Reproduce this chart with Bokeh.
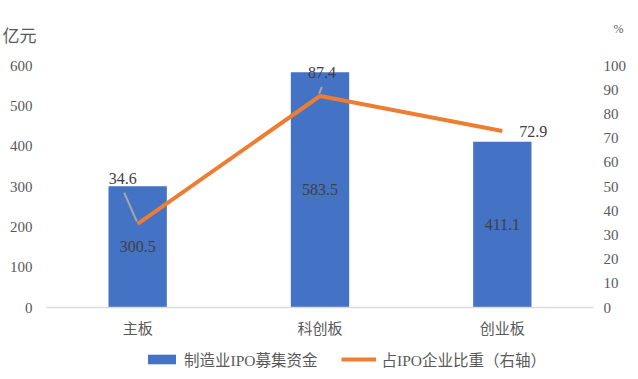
from bokeh.plotting import figure
from bokeh.layouts import column
from bokeh.models import (Range1d, LinearAxis, FixedTicker, Legend, LegendItem,
                          ColumnDataSource, Title)
from bokeh.core.properties import value
from bokeh.embed import file_html
from bokeh.resources import INLINE

categories = ["主板", "科创板", "创业板"]
funds = [300.5, 583.5, 411.1]          # 制造业IPO募集资金 (亿元)
share = [34.6, 87.4, 72.9]             # 占IPO企业比重 (%)
left_ticks = [0, 100, 200, 300, 400, 500, 600]
right_ticks = [0, 10, 20, 30, 40, 50, 60, 70, 80, 90, 100]
series_names = ["制造业IPO募集资金", "占IPO企业比重（右轴）"]
left_unit = "亿元"
right_unit = "%"

BLUE = "#4472C4"
ORANGE = "#ED7D31"
TXT = "#595959"
SERIF = "Liberation Serif, Noto Sans CJK SC"
CJK = "Noto Sans CJK SC"

W = 630
MAIN_H = 340
LEG_H = 31

p = figure(width=W, height=MAIN_H, output_backend="svg", toolbar_location=None,
           x_range=Range1d(-0.5, len(categories) - 0.5), y_range=Range1d(0, 600),
           min_border_left=46, min_border_right=37, min_border_top=65, min_border_bottom=33,
           x_axis_location=None, y_axis_location=None)
p.outline_line_color = None
p.xgrid.visible = False
p.ygrid.visible = False
p.extra_y_ranges = {"right": Range1d(0, 100)}

xs = list(range(len(categories)))

def style_axis(ax, font, size, standoff):
    ax.major_tick_line_color = None
    ax.minor_tick_line_color = None
    ax.major_tick_out = 0
    ax.major_tick_in = 0
    ax.minor_tick_out = 0
    ax.major_label_text_font = font
    ax.major_label_text_font_size = size
    ax.major_label_text_color = TXT
    ax.major_label_standoff = standoff

xaxis = LinearAxis(ticker=FixedTicker(ticks=xs),
                   major_label_overrides={i: c for i, c in enumerate(categories)})
style_axis(xaxis, CJK, "15px", 9)
xaxis.axis_line_color = "#D9D9D9"
xaxis.axis_line_width = 1.5
p.add_layout(xaxis, "below")

yl = LinearAxis(ticker=FixedTicker(ticks=left_ticks))
style_axis(yl, SERIF, "15px", 14)
yl.axis_line_color = None
p.add_layout(yl, "left")

yr = LinearAxis(y_range_name="right", ticker=FixedTicker(ticks=right_ticks))
style_axis(yr, SERIF, "15px", 10)
yr.axis_line_color = None
p.add_layout(yr, "right")

src = ColumnDataSource(dict(x=xs, funds=funds, mid=[f / 2 for f in funds],
                            flab=[f"{v:.1f}" for v in funds]))

p.vbar(x="x", top="funds", width=0.32, source=src, fill_color=BLUE, line_color=None)
p.line(x=xs, y=share, y_range_name="right", line_color=ORANGE, line_width=4, line_join="round")

p.text(x="x", y="mid", text="flab", source=src, text_align="center", text_baseline="middle",
       text_font=value(SERIF), text_font_size="16px", text_color="#404040")

lab_dx = [-15, 2, 31]
lab_dy = [-45, -23, 0]
lsrc = ColumnDataSource(dict(x=xs, y=share, t=[f"{v:.1f}" for v in share], dx=lab_dx, dy=lab_dy))
p.text(x="x", y="y", text="t", source=lsrc, x_offset="dx", y_offset="dy", y_range_name="right",
       text_align="center", text_baseline="middle", text_font=value(SERIF),
       text_font_size="16px", text_color="#404040")

px_per_cat = 182.3
px_per_pct = 2.42
lead_idx = [0, 1]
x0 = [xs[i] + (lab_dx[i] * 0.9) / px_per_cat for i in lead_idx]
y0 = [share[i] + (-lab_dy[i] - 14) / px_per_pct for i in lead_idx]
x1 = [xs[i] - 0.005 for i in lead_idx]
y1 = [share[i] + 1.0 for i in lead_idx]
p.segment(x0=x0, y0=y0, x1=x1, y1=y1, y_range_name="right", line_color="#A6A6A6", line_width=2)

# unit labels above the frame
t_left = Title(text=left_unit, align="left", offset=-44, standoff=38, text_font=CJK,
               text_font_size="17px", text_color=TXT, text_font_style="normal")
p.add_layout(t_left, "above")
t_right = Title(text=right_unit, align="right", offset=-30, standoff=0, text_font=SERIF,
                text_font_size="12px", text_color=TXT, text_font_style="normal")
try:
    t_right.standoff = -70
except Exception:
    t_right.standoff = 0
p.add_layout(t_right, "above")

# ---- legend strip (proxy renderers with no drawable points) ----
leg = figure(width=W, height=LEG_H, output_backend="svg", toolbar_location=None,
             x_range=Range1d(0, 1), y_range=Range1d(0, 1),
             min_border_left=46, min_border_right=37, min_border_top=0, min_border_bottom=0,
             x_axis_location=None, y_axis_location=None)
leg.outline_line_color = None
leg.xgrid.visible = False
leg.ygrid.visible = False
nan = float("nan")
proxy_bar = leg.vbar(x=[nan], top=[nan], width=0.32, fill_color=BLUE, line_color=None)
proxy_line = leg.line(x=[nan, nan], y=[nan, nan], line_color=ORANGE, line_width=4)

legend = Legend(items=[LegendItem(label=series_names[0], renderers=[proxy_bar]),
                       LegendItem(label=series_names[1], renderers=[proxy_line])],
                orientation="horizontal", location=(98, 1))
legend.border_line_color = None
legend.background_fill_alpha = 0
legend.padding = 0
legend.margin = 0
legend.spacing = 24
legend.glyph_width = 35
legend.glyph_height = 12
legend.label_height = 20
legend.label_standoff = 5
legend.label_text_font = SERIF
legend.label_text_font_size = "15.5px"
legend.label_text_color = TXT
leg.add_layout(legend, "center")

layout = column(p, leg, spacing=0)
open("out.html", "w").write(file_html(layout, INLINE))
